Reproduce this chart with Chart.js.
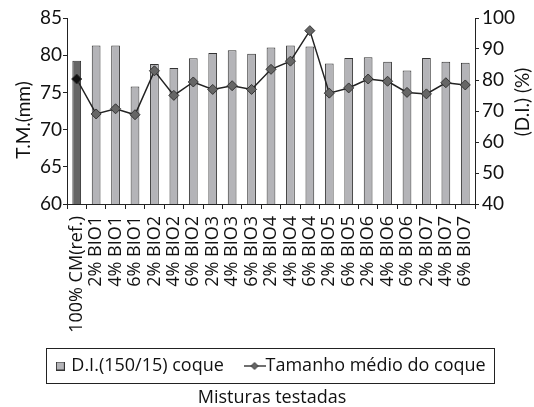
<!DOCTYPE html>
<html><head><meta charset="utf-8">
<script src="https://cdn.jsdelivr.net/npm/chart.js@4"></script>
<style>html,body{margin:0;padding:0;background:#fff}#w{width:534px;height:407px}</style>
</head><body><div id="w"><canvas id="c"></canvas></div>
<script>
const categories = ["100% CM(ref.)","2% BIO1","4% BIO1","6% BIO1","2% BIO2","4% BIO2","6% BIO2","2% BIO3","4% BIO3","6% BIO3","2% BIO4","4% BIO4","6% BIO4","2% BIO5","6% BIO5","2% BIO6","4% BIO6","6% BIO6","2% BIO7","4% BIO7","6% BIO7"];
const diValues = [86.2,91.1,91.1,77.9,85.2,83.9,87.0,88.7,89.6,88.5,90.5,91.1,90.8,85.3,87.1,87.3,85.9,83.1,87.1,85.9,85.6];
const tmValues = [76.8,72.1,72.8,72.0,77.9,74.6,76.4,75.4,75.9,75.4,78.1,79.2,83.3,74.9,75.6,76.8,76.5,75.0,74.8,76.3,76.0];
const leftTicks = {min:60,max:85,step:5};
const rightTicks = {min:40,max:100,step:10};
const barLabel = "D.I.(150/15) coque";
const lineLabel = "Tamanho médio do coque";
const xTitle = "Misturas testadas";
const leftTitle = "T.M.(mm)";
const rightTitle = "(D.I.) (%)";

const FONT = "Lato, 'DejaVu Sans', sans-serif";
const FONT2 = "'Open Sans', 'DejaVu Sans', sans-serif";
function mkIcon(kind){
  const cv=document.createElement('canvas');
  if(kind==='bar'){cv.width=9;cv.height=9;const g=cv.getContext('2d');g.fillStyle='#b4b4b8';g.fillRect(0.5,0.5,8,8);g.strokeStyle='#333';g.lineWidth=1;g.strokeRect(0.5,0.5,8,8);}
  else{cv.width=22;cv.height=10;const g=cv.getContext('2d');g.strokeStyle='#222';g.lineWidth=1.3;g.beginPath();g.moveTo(0,5);g.lineTo(22,5);g.stroke();g.fillStyle='#666';g.strokeStyle='#333';g.lineWidth=1;g.beginPath();g.moveTo(11,1.5);g.lineTo(14.5,5);g.lineTo(11,8.5);g.lineTo(7.5,5);g.closePath();g.fill();g.stroke();}
  return cv;
}
const barIcon=mkIcon('bar'), lineIcon=mkIcon('line');

const extras={id:'extras',afterDraw(chart){
  const ctx=chart.ctx;
  const lg=chart.legend;
  if(lg&&lg.legendHitBoxes.length){
    const hb=lg.legendHitBoxes;
    const l=hb[0].left, r=hb[hb.length-1].left+hb[hb.length-1].width;
    const cy=hb[0].top+hb[0].height/2;
    ctx.save();ctx.strokeStyle='#222';ctx.lineWidth=1;
    ctx.strokeRect(Math.round(l-12)+0.5,Math.round(cy-18)+0.5,Math.round(r-l+21),35);ctx.restore();
  }
  ctx.save();ctx.fillStyle='#111';ctx.font="19px "+FONT;ctx.textAlign='center';ctx.textBaseline='middle';
  ctx.translate(24,120);ctx.rotate(-Math.PI/2);ctx.fillText(leftTitle,0,0);ctx.restore();
  ctx.save();ctx.fillStyle='#111';ctx.font="19px "+FONT;ctx.textAlign='center';ctx.textBaseline='middle';
  ctx.translate(523,102);ctx.rotate(-Math.PI/2);ctx.fillText(rightTitle,0,0);ctx.restore();
}};

new Chart(document.getElementById('c'),{
  type:'bar',
  data:{labels:categories,datasets:[
    {type:'bar',label:barLabel,data:diValues,yAxisID:'y1',order:2,
     backgroundColor:diValues.map((v,i)=>i===0?'#666666':'#b4b4b8'),borderColor:'#333',borderWidth:1,
     categoryPercentage:1,barPercentage:0.45},
    {type:'line',label:lineLabel,data:tmValues,yAxisID:'y',order:1,
     borderColor:'#222',borderWidth:1.5,tension:0,
     pointStyle:'rectRot',pointRadius:5,
     pointBackgroundColor:tmValues.map((v,i)=>i===0?'#111':'#666'),pointBorderColor:'#333',pointBorderWidth:1}
  ]},
  options:{
    responsive:true,maintainAspectRatio:false,animation:false,
    layout:{padding:{top:18,left:10,right:0,bottom:0}},
    plugins:{
      tooltip:{enabled:false},
      legend:{position:'bottom',labels:{font:{family:FONT2,size:18},color:'#111',usePointStyle:true,pointStyleWidth:4,padding:10,
        generateLabels(chart){return [
          {text:barLabel+'    ',pointStyle:barIcon,fillStyle:'#b4b4b8',strokeStyle:'#333',lineWidth:0,datasetIndex:0,fontColor:'#111'},
          {text:lineLabel,pointStyle:lineIcon,fillStyle:'#666',strokeStyle:'#333',lineWidth:0,datasetIndex:1,fontColor:'#111'}];}}},
      title:{display:true,position:'bottom',text:xTitle,font:{family:FONT2,size:18,weight:'normal',lineHeight:1},color:'#111',padding:{top:4,bottom:0}}
    },
    scales:{
      x:{offset:true,grid:{display:true,drawOnChartArea:false,offset:true,color:'#222',tickLength:5,tickColor:'#222'},
         border:{color:'#222',width:1},
         ticks:{autoSkip:false,maxRotation:90,minRotation:90,font:{family:FONT2,size:18},color:'#111',padding:7},
         afterFit(s){s.height=143;}},
      y:{position:'left',min:leftTicks.min,max:leftTicks.max,
         ticks:{stepSize:leftTicks.step,font:{family:FONT,size:19},color:'#111',padding:1},
         grid:{drawOnChartArea:false,color:'#222',tickLength:4},border:{color:'#222',width:1},
         afterFit(s){s.width=57;}},
      y1:{position:'right',min:rightTicks.min,max:rightTicks.max,
         ticks:{stepSize:rightTicks.step,font:{family:FONT,size:19},color:'#111',padding:3},
         grid:{drawOnChartArea:false,color:'#222',tickLength:4},border:{color:'#222',width:1},
         afterFit(s){s.width=59;}}
    }
  },
  plugins:[extras]
});
</script></body></html>
